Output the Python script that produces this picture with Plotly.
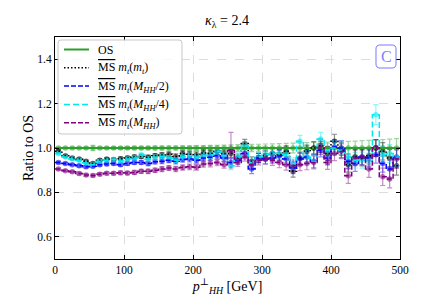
import plotly.graph_objects as go

bin_width = 10
n_bins = 50
bin_edges = [i * bin_width for i in range(n_bins + 1)]
bin_centers = [(bin_edges[i] + bin_edges[i + 1]) / 2 for i in range(n_bins)]

os_vals = [1.0] * n_bins
os_err = [0.004, 0.004, 0.004, 0.004, 0.005, 0.012, 0.005, 0.005, 0.006, 0.006,
          0.006, 0.007, 0.007, 0.007, 0.008, 0.008, 0.009, 0.009, 0.010, 0.010,
          0.011, 0.011, 0.012, 0.012, 0.013, 0.014, 0.015, 0.015, 0.016, 0.017,
          0.018, 0.019, 0.020, 0.021, 0.022, 0.023, 0.024, 0.025, 0.026, 0.027,
          0.028, 0.029, 0.030, 0.031, 0.033, 0.034, 0.036, 0.038, 0.040, 0.042]

ms_mt = [0.985, 0.965, 0.955, 0.950, 0.940, 0.930, 0.945, 0.950, 0.948, 0.952,
         0.955, 0.960, 0.962, 0.958, 0.965, 0.968, 0.972, 0.962, 0.975, 0.972,
         0.970, 0.978, 0.975, 0.985, 0.975, 0.975, 0.955, 1.020, 0.940, 0.955,
         0.965, 0.975, 0.970, 0.985, 0.895, 0.955, 0.985, 1.000, 1.010, 0.975,
         1.030, 0.990, 0.925, 0.960, 0.955, 0.965, 1.000, 0.985, 0.955, 0.920]
ms_mt_err = [0.005, 0.005, 0.005, 0.006, 0.006, 0.006, 0.007, 0.007, 0.007, 0.008,
             0.008, 0.009, 0.009, 0.010, 0.010, 0.011, 0.011, 0.012, 0.012, 0.013,
             0.013, 0.014, 0.015, 0.015, 0.016, 0.017, 0.018, 0.019, 0.020, 0.021,
             0.022, 0.023, 0.024, 0.025, 0.026, 0.027, 0.028, 0.029, 0.030, 0.031,
             0.032, 0.033, 0.034, 0.035, 0.036, 0.037, 0.038, 0.039, 0.040, 0.042]

ms_half = [0.935, 0.930, 0.925, 0.920, 0.915, 0.918, 0.925, 0.928, 0.930, 0.925,
           0.930, 0.935, 0.935, 0.930, 0.938, 0.940, 0.945, 0.940, 0.948, 0.950,
           0.945, 0.955, 0.958, 0.965, 0.955, 0.935, 0.945, 0.975, 0.905, 0.955,
           0.950, 0.955, 0.965, 0.950, 0.910, 0.950, 0.960, 0.940, 0.990, 0.955,
           1.005, 1.000, 0.940, 0.930, 0.960, 0.955, 0.970, 0.930, 0.905, 0.960]
ms_half_err = [0.005, 0.005, 0.005, 0.006, 0.006, 0.006, 0.007, 0.007, 0.007, 0.008,
               0.008, 0.009, 0.009, 0.010, 0.010, 0.011, 0.011, 0.012, 0.012, 0.013,
               0.013, 0.014, 0.015, 0.015, 0.016, 0.017, 0.018, 0.019, 0.020, 0.021,
               0.022, 0.023, 0.024, 0.025, 0.026, 0.027, 0.028, 0.029, 0.030, 0.031,
               0.032, 0.033, 0.034, 0.035, 0.036, 0.037, 0.038, 0.039, 0.040, 0.042]

ms_quarter = [0.975, 0.960, 0.950, 0.945, 0.932, 0.925, 0.940, 0.945, 0.948, 0.942,
              0.950, 0.955, 0.968, 0.950, 0.958, 0.962, 0.955, 0.945, 0.960, 0.965,
              0.958, 0.965, 0.968, 0.985, 0.965, 0.920, 0.960, 1.010, 0.935, 0.960,
              0.970, 0.975, 0.975, 0.970, 0.930, 1.030, 0.960, 0.940, 1.040, 0.990,
              1.000, 0.990, 0.960, 0.945, 0.945, 0.940, 1.150, 0.970, 0.975, 0.960]
ms_quarter_err = [0.005, 0.005, 0.005, 0.006, 0.006, 0.006, 0.007, 0.007, 0.007, 0.008,
                  0.008, 0.009, 0.009, 0.010, 0.010, 0.011, 0.011, 0.012, 0.012, 0.013,
                  0.013, 0.014, 0.015, 0.015, 0.016, 0.017, 0.018, 0.019, 0.020, 0.021,
                  0.022, 0.023, 0.024, 0.025, 0.026, 0.027, 0.028, 0.029, 0.030, 0.031,
                  0.032, 0.033, 0.034, 0.035, 0.036, 0.037, 0.045, 0.039, 0.040, 0.042]

ms_full = [0.905, 0.898, 0.893, 0.885, 0.878, 0.876, 0.882, 0.886, 0.886, 0.888,
           0.887, 0.890, 0.895, 0.895, 0.900, 0.905, 0.910, 0.905, 0.912, 0.915,
           0.913, 0.928, 0.930, 0.935, 0.925, 0.990, 0.935, 0.960, 0.925, 0.945,
           0.950, 0.945, 0.935, 0.925, 0.920, 0.925, 0.930, 0.935, 1.000, 0.935,
           0.975, 0.985, 0.875, 0.955, 0.960, 0.905, 1.000, 0.870, 0.860, 0.950]
ms_full_err = [0.005, 0.005, 0.005, 0.006, 0.006, 0.006, 0.007, 0.007, 0.007, 0.008,
               0.008, 0.009, 0.009, 0.010, 0.010, 0.011, 0.011, 0.012, 0.012, 0.013,
               0.013, 0.014, 0.015, 0.015, 0.016, 0.080, 0.018, 0.019, 0.020, 0.021,
               0.022, 0.023, 0.024, 0.025, 0.026, 0.027, 0.028, 0.029, 0.030, 0.031,
               0.032, 0.033, 0.034, 0.035, 0.036, 0.037, 0.038, 0.039, 0.040, 0.042]

MS = "<span style='text-decoration:overline'>MS</span>"
labels = [
    "OS",
    MS + " <i>m<sub>t</sub></i>(<i>m<sub>t</sub></i>)",
    MS + " <i>m<sub>t</sub></i>(<i>M<sub>HH</sub></i>/2)",
    MS + " <i>m<sub>t</sub></i>(<i>M<sub>HH</sub></i>/4)",
    MS + " <i>m<sub>t</sub></i>(<i>M<sub>HH</sub></i>)",
]
colors = ["#2ca02c", "#000000", "#0000ff", "#00e8f0", "#800080"]
dashes = ["solid", "1.5px,2px", "5px,2px", "6px,3px", "5px,2px"]
widths = [2.0, 1.5, 1.5, 1.5, 1.5]
values = [os_vals, ms_mt, ms_half, ms_quarter, ms_full]
errors = [os_err, ms_mt_err, ms_half_err, ms_quarter_err, ms_full_err]

def rgba(hexc, a):
    h = hexc.lstrip("#")
    r, g, b = int(h[0:2], 16), int(h[2:4], 16), int(h[4:6], 16)
    return f"rgba({r},{g},{b},{a})"

# page offset (body margin) of 8 px is compensated by a smaller figure
W, H = 436, 297
ML, MR, MT, MB = 47, 44, 29, 46
PW, PH = W - ML - MR, H - MT - MB

def px(ax):  # absolute page x -> paper
    return (ax - 8 - ML) / PW

def py(ay):  # absolute page y -> paper
    return (H - MB - (ay - 8)) / PH

fig = go.Figure()
for name, vals, errs, col in zip(labels, values, errors, colors):
    fig.add_trace(go.Scatter(
        x=bin_centers, y=vals, mode="markers",
        marker=dict(size=5.5, color=rgba(col, 0.55)),
        error_y=dict(type="data", array=errs, visible=True, color=rgba(col, 0.45),
                     thickness=1.2, width=2.5),
        showlegend=False, hoverinfo="skip"))
for name, vals, col, dash, lw in zip(labels, values, colors, dashes, widths):
    fig.add_trace(go.Scatter(
        x=bin_edges, y=list(vals) + [vals[-1]], mode="lines",
        line=dict(color=col, dash=dash, width=lw, shape="hv"),
        name=name, showlegend=False))

def rounded_rect(x0, y0, x1, y1, r):
    def P(x, y):
        return f"{px(x):.5f},{py(y):.5f}"
    return (f"M {P(x0 + r, y0)} L {P(x1 - r, y0)} Q {P(x1, y0)} {P(x1, y0 + r)} "
            f"L {P(x1, y1 - r)} Q {P(x1, y1)} {P(x1 - r, y1)} "
            f"L {P(x0 + r, y1)} Q {P(x0, y1)} {P(x0, y1 - r)} "
            f"L {P(x0, y0 + r)} Q {P(x0, y0)} {P(x0 + r, y0)} Z")

font = "Liberation Serif, DejaVu Serif, serif"
shapes = []
annotations = []
shapes.append(dict(type="path", xref="paper", yref="paper", layer="above",
                   path=rounded_rect(58, 40, 182, 134, 3),
                   fillcolor="rgba(255,255,255,0.8)", line=dict(color="#c8c8c8", width=1)))
entry_y0, entry_dy = 49.5, 18.3
for i, (lab, col, dash, lw) in enumerate(zip(labels, colors, dashes, widths)):
    yy = entry_y0 + i * entry_dy
    shapes.append(dict(type="line", xref="paper", yref="paper", layer="above",
                       x0=px(64), x1=px(89), y0=py(yy), y1=py(yy),
                       line=dict(color=col, dash=dash, width=lw)))
    annotations.append(dict(text=lab, x=px(96), y=py(yy + 0.5), xref="paper", yref="paper",
                            xanchor="left", yanchor="middle", showarrow=False,
                            font=dict(size=12, family=font, color="black")))
shapes.append(dict(type="path", xref="paper", yref="paper", layer="above",
                   path=rounded_rect(376, 45, 396, 68, 4),
                   fillcolor="white", line=dict(color="#7878ff", width=1)))
annotations.append(dict(text="C", x=px(386), y=py(56.5), xref="paper", yref="paper",
                        xanchor="center", yanchor="middle", showarrow=False,
                        font=dict(size=16, color="#8080ff", family=font)))

fig.update_layout(
    width=W, height=H,
    margin=dict(l=ML, r=MR, t=MT, b=MB, autoexpand=False),
    paper_bgcolor="white", plot_bgcolor="white",
    font=dict(family=font, size=12, color="black"),
    title=dict(text="<i>κ</i><sub>λ</sub> = 2.4", x=(227 - 8) / W, xanchor="center",
               y=1 - (20 - 8) / H, yanchor="middle", font=dict(size=14)),
    showlegend=False,
    shapes=shapes,
    annotations=annotations,
)
axis_common = dict(showline=True, linecolor="black", linewidth=1, mirror="ticks",
                   ticks="inside", ticklen=4, tickcolor="black",
                   showgrid=True, gridcolor="#dcdcdc", griddash="dash", gridwidth=1,
                   zeroline=False, tickfont=dict(size=11.5), automargin=False)
fig.update_xaxes(range=[0, 500], tickvals=[0, 100, 200, 300, 400, 500],
                 title=dict(text="<i>p</i><sup>⊥</sup><sub><i>HH</i></sub> [GeV]",
                            standoff=3, font=dict(size=14)), **axis_common)
fig.update_yaxes(range=[0.5, 1.5], tickvals=[0.6, 0.8, 1.0, 1.2, 1.4],
                 ticktext=["0.6", "0.8", "1.0", "1.2", "1.4"],
                 title=dict(text="Ratio to OS", standoff=0, font=dict(size=14)), **axis_common)

fig.write_html("out.html")
